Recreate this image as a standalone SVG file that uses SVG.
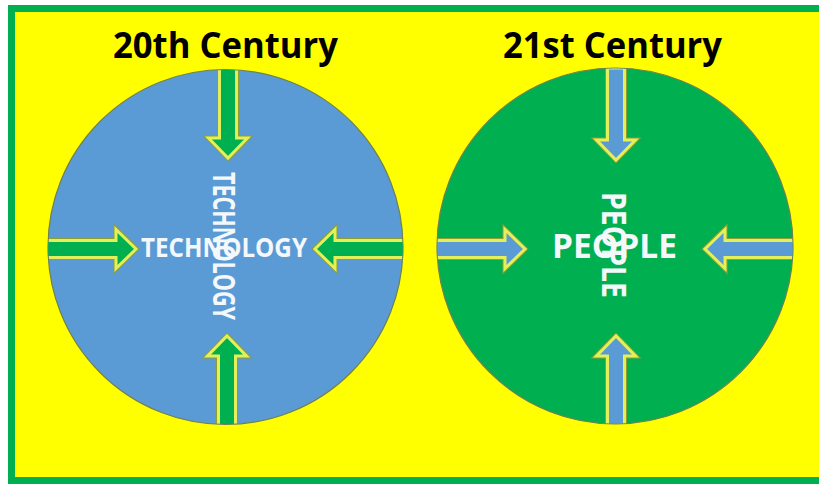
<svg xmlns="http://www.w3.org/2000/svg" xmlns:xlink="http://www.w3.org/1999/xlink" width="819" height="484" viewBox="0 0 819 484">
  <style>
    .title { font-family: "Open Sans", "Liberation Sans", sans-serif; font-weight: 700; fill: #000000; }
    .label { font-family: "Open Sans", "Liberation Sans", sans-serif; font-weight: 700; fill: #F4F8FB; }
    .arrow-edge { stroke: #8E9E30; stroke-width: 5; stroke-linejoin: miter; }
    .arrow-rim { stroke: #E4F05A; stroke-width: 3; stroke-linejoin: miter; }
    .green-fill { fill: #00B050; }
    .blue-fill { fill: #5B9BD5; }
  </style>
  <defs>
    <!-- block arrow pointing right, origin at the tail centre -->
    <path id="block-arrow" d="M-4,-8.5 H68 V-19.5 L88,0 L68,19.5 V8.5 H-4 Z"/>
    <clipPath id="clip-left"><circle cx="225.5" cy="247" r="177"/></clipPath>
    <clipPath id="clip-right"><circle cx="615" cy="246" r="177.5"/></clipPath>
  </defs>

  <!-- background frame -->
  <rect x="0" y="0" width="819" height="484" fill="#FFFFFF"/>
  <rect x="8" y="5" width="830" height="480" fill="#00B050"/>
  <rect x="15" y="12" width="830" height="465" fill="#FFFF00"/>

  <!-- headings -->
  <text class="title" x="113" y="58" font-size="36" textLength="225" lengthAdjust="spacingAndGlyphs">20th Century</text>
  <text class="title" x="503" y="58" font-size="36" textLength="219" lengthAdjust="spacingAndGlyphs">21st Century</text>

  <!-- 20th century node -->
  <g id="technology">
    <circle cx="225.5" cy="247" r="177.5" fill="#5B9BD5" stroke="#6F8150" stroke-width="1.2"/>
  </g>

  <!-- 21st century node -->
  <g id="people">
    <circle cx="615" cy="246" r="178" fill="#00B050" stroke="#6F8150" stroke-width="1.2"/>
  </g>

  <!-- inward arrows, trimmed at the circle rims -->
  <g id="connectors">
    <g class="green-fill" clip-path="url(#clip-left)">
      <use xlink:href="#block-arrow" href="#block-arrow" class="arrow-edge" transform="translate(48,249)"/>
      <use xlink:href="#block-arrow" href="#block-arrow" class="arrow-rim" transform="translate(48,249)"/>
      <use xlink:href="#block-arrow" href="#block-arrow" class="arrow-edge" transform="translate(403,249) rotate(180)"/>
      <use xlink:href="#block-arrow" href="#block-arrow" class="arrow-rim" transform="translate(403,249) rotate(180)"/>
      <use xlink:href="#block-arrow" href="#block-arrow" class="arrow-edge" transform="translate(228,70) rotate(90)"/>
      <use xlink:href="#block-arrow" href="#block-arrow" class="arrow-rim" transform="translate(228,70) rotate(90)"/>
      <use xlink:href="#block-arrow" href="#block-arrow" class="arrow-edge" transform="translate(227,424) rotate(-90)"/>
      <use xlink:href="#block-arrow" href="#block-arrow" class="arrow-rim" transform="translate(227,424) rotate(-90)"/>
    </g>
    <g class="blue-fill" clip-path="url(#clip-right)">
      <use xlink:href="#block-arrow" href="#block-arrow" class="arrow-edge" transform="translate(437,249)"/>
      <use xlink:href="#block-arrow" href="#block-arrow" class="arrow-rim" transform="translate(437,249)"/>
      <use xlink:href="#block-arrow" href="#block-arrow" class="arrow-edge" transform="translate(793,249) rotate(180)"/>
      <use xlink:href="#block-arrow" href="#block-arrow" class="arrow-rim" transform="translate(793,249) rotate(180)"/>
      <use xlink:href="#block-arrow" href="#block-arrow" class="arrow-edge" transform="translate(616,72) rotate(90)"/>
      <use xlink:href="#block-arrow" href="#block-arrow" class="arrow-rim" transform="translate(616,72) rotate(90)"/>
      <use xlink:href="#block-arrow" href="#block-arrow" class="arrow-edge" transform="translate(616,424) rotate(-90)"/>
      <use xlink:href="#block-arrow" href="#block-arrow" class="arrow-rim" transform="translate(616,424) rotate(-90)"/>
    </g>
  </g>

  <!-- centre labels -->
  <g id="technology-labels">
    <text class="label" x="0" y="0" font-size="30" textLength="148" lengthAdjust="spacingAndGlyphs" transform="translate(213,172) rotate(90)">TECHNOLOGY</text>
    <text class="label" x="141" y="257" font-size="27" textLength="166" lengthAdjust="spacingAndGlyphs">TECHNOLOGY</text>
  </g>
  <g id="people-labels">
    <text class="label" x="0" y="0" font-size="34" textLength="106" lengthAdjust="spacingAndGlyphs" transform="translate(602,192) rotate(90)">PEOPLE</text>
    <text class="label" x="552" y="258" font-size="34" textLength="125" lengthAdjust="spacingAndGlyphs">PEOPLE</text>
  </g>
</svg>
